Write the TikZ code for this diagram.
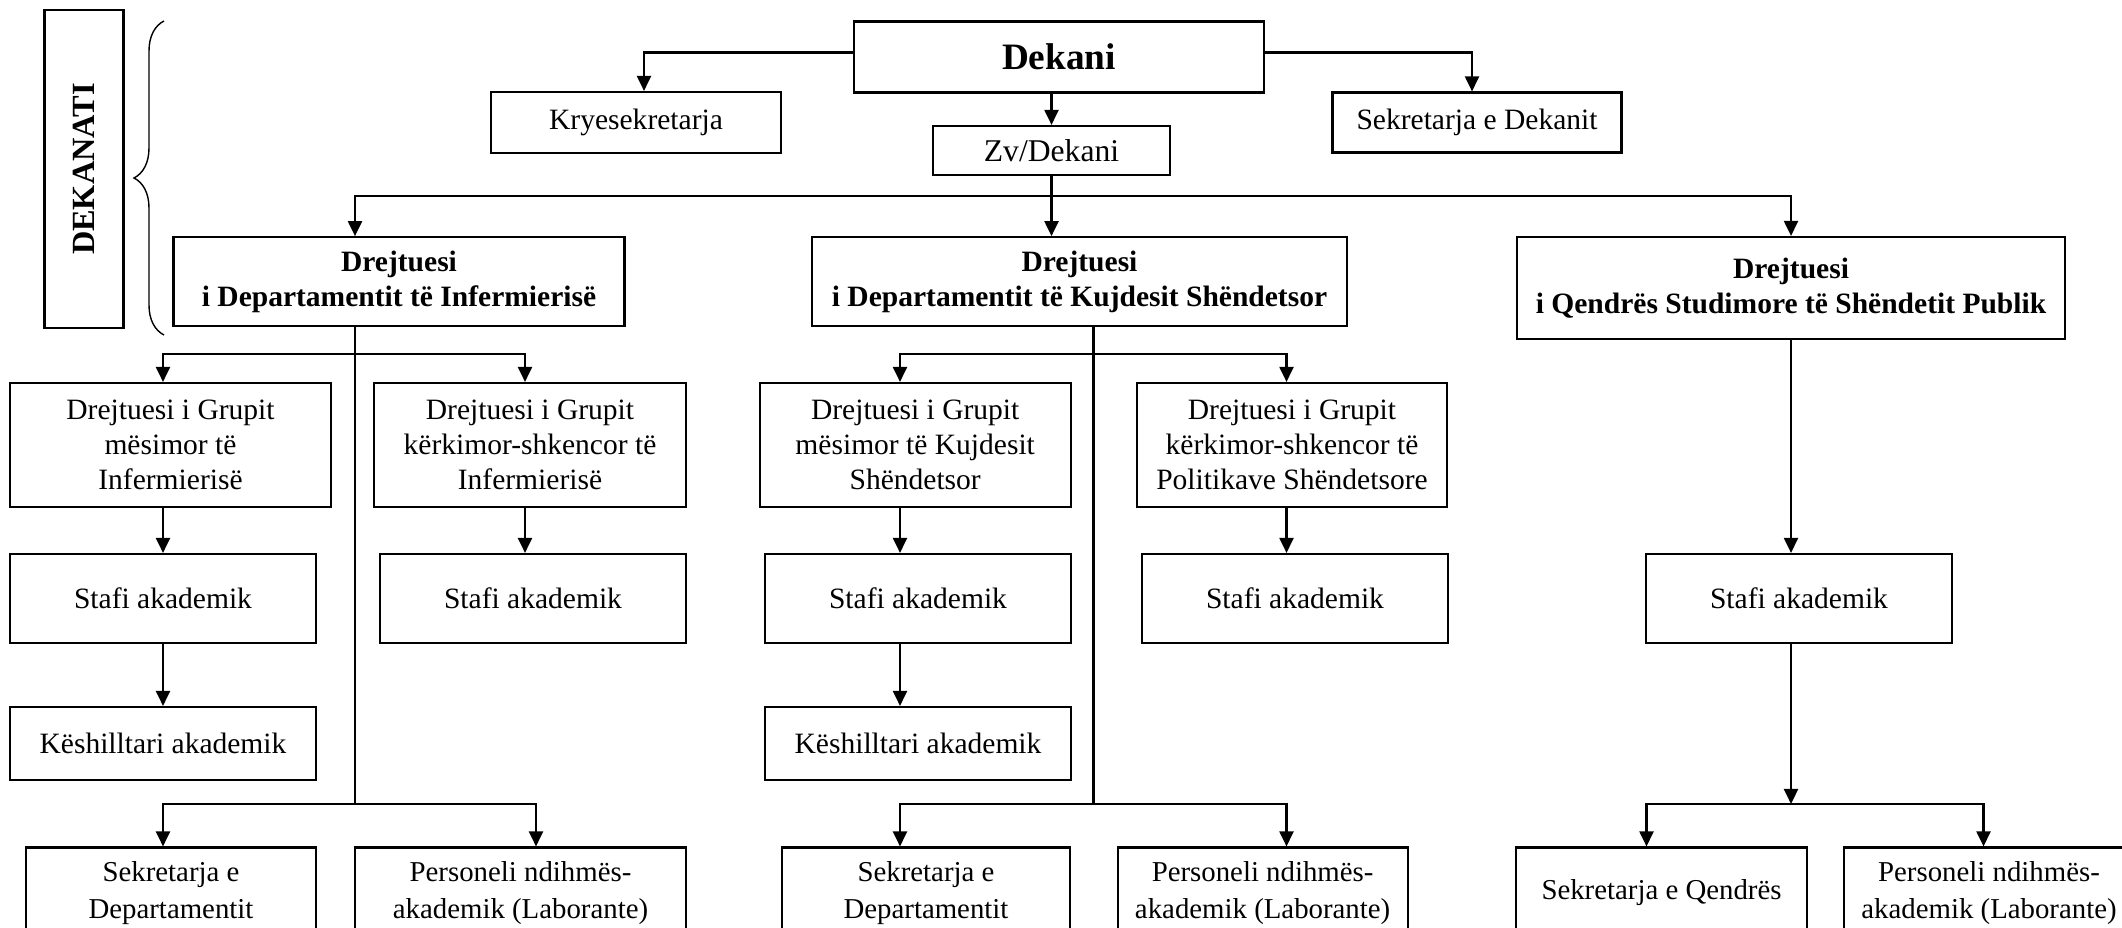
\documentclass[tikz,border=0pt]{standalone}
\usepackage{fontspec}
\setmainfont{Liberation Serif}
\usetikzlibrary{arrows.meta,decorations.pathreplacing}

\begin{document}
\begin{tikzpicture}[
    block/.style={draw, line width=0.6pt, align=center, inner sep=0pt, font=\fontsize{8.4}{9.9}\selectfont},
    head/.style={block, font=\bfseries\fontsize{8.4}{10}\selectfont},
    low/.style={block, minimum height=0.91cm, font=\fontsize{8.2}{10.4}\selectfont},
    arrow/.style={-{Triangle[length=1.5mm,width=1.4mm]}, line width=0.6pt},
    line/.style={line width=0.6pt}
]
\useasboundingbox (0,0) rectangle (21.22,-9.28);
\clip (0,0) rectangle (21.22,-9.28);

% columns of the arrows and rows of the buses
\coordinate (c1) at (1.63,0);
\coordinate (c2) at (5.25,0);
\coordinate (c3) at (5.36,0);
\coordinate (sp1) at (3.55,0);
\coordinate (c4) at (9.00,0);
\coordinate (c5) at (12.865,0);
\coordinate (sp2) at (10.935,0);
\coordinate (c6) at (16.465,0);
\coordinate (c7) at (19.835,0);
\coordinate (r1) at (0,-3.54);
\coordinate (r2) at (0,-8.04);

% dekanati
\node[block, rotate=90, minimum width=3.18cm, minimum height=0.79cm, font=\bfseries\fontsize{9.2}{11}\selectfont] (dekanati) at (0.84,-1.69) {DEKANATI};
\draw[line width=0.4pt, decorate, decoration={brace, amplitude=3mm}] (1.64,-3.35) -- (1.64,-0.21);

\node[block, minimum width=4.10cm, minimum height=0.71cm, font=\bfseries\fontsize{10.6}{12}\selectfont] (dekani) at (10.59,-0.57) {Dekani};
\node[block, minimum width=2.90cm, minimum height=0.61cm] (kryesek) at (6.36,-1.225) {Kryesekretarja};
\node[block, minimum width=2.89cm, minimum height=0.60cm] (sekdek) at (14.77,-1.225) {Sekretarja e Dekanit};
\node[block, minimum width=2.37cm, minimum height=0.49cm, font=\fontsize{9}{11}\selectfont] (zv) at (10.515,-1.505) {Zv/Dekani};

% departamentet
\node[head, minimum width=4.51cm, minimum height=0.89cm] (dep1) at (3.99,-2.817) {Drejtuesi\\i Departamentit të Infermierisë};
\node[head, minimum width=5.35cm, minimum height=0.89cm] (dep2) at (10.795,-2.817) {Drejtuesi\\i Departamentit të Kujdesit Shëndetsor};
\node[head, minimum width=5.48cm, minimum height=1.02cm] (dep3) at (17.91,-2.88) {Drejtuesi\\i Qendrës Studimore të Shëndetit Publik};

% grupet
\node[block, minimum width=3.21cm, minimum height=1.24cm] (g1) at (1.705,-4.45) {Drejtuesi i Grupit\\mësimor të\\Infermierisë};
\node[block, minimum width=3.12cm, minimum height=1.24cm] (g2) at (5.30,-4.45) {Drejtuesi i Grupit\\kërkimor-shkencor të\\Infermierisë};
\node[block, minimum width=3.11cm, minimum height=1.24cm] (g3) at (9.152,-4.45) {Drejtuesi i Grupit\\mësimor të Kujdesit\\Shëndetsor};
\node[block, minimum width=3.105cm, minimum height=1.24cm] (g4) at (12.92,-4.45) {Drejtuesi i Grupit\\kërkimor-shkencor të\\Politikave Shëndetsore};

% stafi
\node[block, minimum width=3.06cm, minimum height=0.89cm] (s1) at (1.63,-5.985) {Stafi akademik};
\node[block, minimum width=3.06cm, minimum height=0.89cm] (s2) at (5.33,-5.985) {Stafi akademik};
\node[block, minimum width=3.06cm, minimum height=0.89cm] (s3) at (9.18,-5.985) {Stafi akademik};
\node[block, minimum width=3.055cm, minimum height=0.89cm] (s4) at (12.95,-5.985) {Stafi akademik};
\node[block, minimum width=3.06cm, minimum height=0.89cm] (s5) at (17.99,-5.985) {Stafi akademik};
\node[block, minimum width=3.06cm, minimum height=0.73cm] (k1) at (1.63,-7.435) {Këshilltari akademik};
\node[block, minimum width=3.06cm, minimum height=0.73cm] (k2) at (9.18,-7.435) {Këshilltari akademik};

% sekretaria dhe personeli
\node[low, minimum width=2.90cm] (sd1) at (1.71,-8.93) {Sekretarja e\\Departamentit};
\node[low, minimum width=3.31cm] (p1) at (5.205,-8.93) {Personeli ndihmës-\\akademik (Laborante)};
\node[low, minimum width=2.885cm] (sd2) at (9.26,-8.93) {Sekretarja e\\Departamentit};
\node[low, minimum width=2.90cm] (p2) at (12.626,-8.93) {Personeli ndihmës-\\akademik (Laborante)};
\node[low, minimum width=2.91cm] (sq) at (16.615,-8.93) {Sekretarja e Qendrës};
\node[low, minimum width=2.90cm] (p3) at (19.89,-8.93) {Personeli ndihmës-\\akademik (Laborante)};

% top
\draw[arrow] ([yshift=0.45mm]dekani.west) -| ([xshift=0.8mm]kryesek.north);
\draw[arrow] ([yshift=0.45mm]dekani.east) -| ([xshift=-0.5mm]sekdek.north);
\draw[arrow] (dekani.south -| zv.north) -- (zv.north);
\coordinate (top) at (10.515,-1.96);
\draw[arrow] (zv.south) -- (zv.south |- dep2.north);
\draw[arrow] (top) -| (sp1 |- dep1.north);
\draw[arrow] (top) -| (dep3.north);

% departamenti i infermierise
\draw[line] (sp1 |- dep1.south) -- (sp1 |- r2);
\draw[arrow] (sp1 |- r1) -| (c1 |- g1.north);
\draw[arrow] (sp1 |- r1) -| (c2 |- g2.north);
\draw[arrow] (c1 |- g1.south) -- (c1 |- s1.north);
\draw[arrow] (c1 |- s1.south) -- (c1 |- k1.north);
\draw[arrow] (c2 |- g2.south) -- (c2 |- s2.north);
\draw[arrow] (sp1 |- r2) -| (c1 |- sd1.north);
\draw[arrow] (sp1 |- r2) -| (c3 |- p1.north);

% departamenti i kujdesit
\draw[line] (sp2 |- dep2.south) -- (sp2 |- r2);
\draw[arrow] (sp2 |- r1) -| (c4 |- g3.north);
\draw[arrow] (sp2 |- r1) -| (c5 |- g4.north);
\draw[arrow] (c4 |- g3.south) -- (c4 |- s3.north);
\draw[arrow] (c4 |- s3.south) -- (c4 |- k2.north);
\draw[arrow] (c5 |- g4.south) -- (c5 |- s4.north);
\draw[arrow] (sp2 |- r2) -| (c4 |- sd2.north);
\draw[arrow] (sp2 |- r2) -| (c5 |- p2.north);

% qendra
\draw[arrow] (dep3.south) -- (dep3.south |- s5.north);
\draw[arrow] (dep3.south |- s5.south) -- (dep3.south |- r2);
\draw[arrow] (dep3.south |- r2) -| (c6 |- sq.north);
\draw[arrow] (dep3.south |- r2) -| (c7 |- p3.north);
\end{tikzpicture}
\end{document}
